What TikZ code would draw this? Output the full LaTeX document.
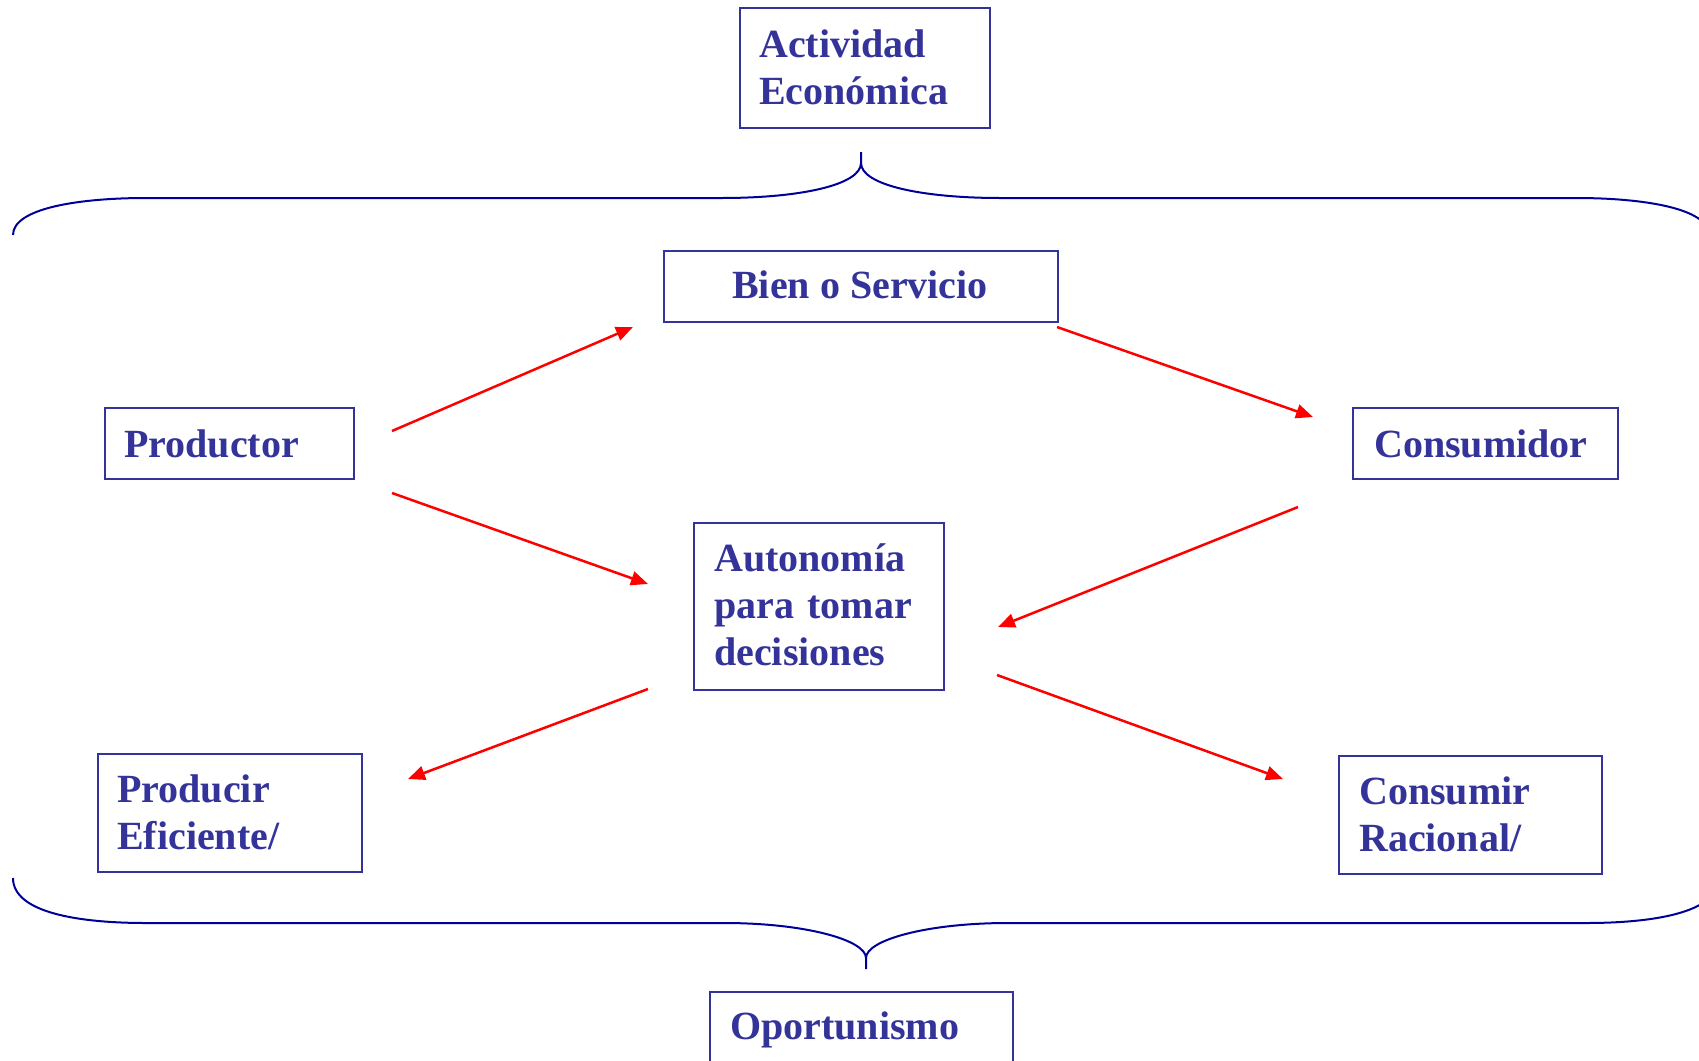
\documentclass[tikz,border=0pt]{standalone}
\usepackage{fontspec}
\setmainfont{Liberation Serif}
\usetikzlibrary{arrows.meta}
\definecolor{txtblue}{RGB}{51,51,153}
\definecolor{bracenavy}{RGB}{0,0,153}
\definecolor{arrred}{RGB}{255,0,0}
\begin{document}
\begin{tikzpicture}[x=1pt,y=-1pt,
  box/.style={draw=txtblue,line width=2pt,inner sep=0pt},
  lbl/.style={anchor=base west,inner sep=0pt,text=txtblue,font=\bfseries\fontsize{40}{47}\selectfont,align=left,text width=280pt},
  brace/.style={draw=bracenavy,line width=2pt},
  arr/.style={draw=arrred,line width=2.5pt,-{Triangle[length=17pt,width=14pt]}}]
\useasboundingbox (0,0) rectangle (1699,1060);

% boxes
\node[box,minimum width=250pt,minimum height=120pt,anchor=north west] (act) at (739,7) {};
\node[box,minimum width=394pt,minimum height=71pt,anchor=north west] (bien) at (663,250) {};
\node[box,minimum width=249pt,minimum height=71pt,anchor=north west] (prod) at (104,407) {};
\node[box,minimum width=265pt,minimum height=71pt,anchor=north west] (cons) at (1352,407) {};
\node[box,minimum width=250pt,minimum height=167pt,anchor=north west] (auto) at (693,522) {};
\node[box,minimum width=264pt,minimum height=118pt,anchor=north west] (pef) at (97,753) {};
\node[box,minimum width=263pt,minimum height=118pt,anchor=north west] (crac) at (1338,755) {};
\node[box,minimum width=303pt,minimum height=90pt,anchor=north west] (opo) at (709,991) {};

% texts
\node[lbl] (tact) at (759,57) {Actividad\\Económica};
\node[anchor=base,inner sep=0pt,text=txtblue,font=\bfseries\fontsize{40}{47}\selectfont] (tbien) at (860,298) {Bien o Servicio};
\node[lbl] (tprod) at (124,457) {Productor};
\node[lbl] (tcons) at (1374,457) {Consumidor};
\node[lbl] (tauto) at (714,571) {Autonomía\\para tomar\\decisiones};
\node[lbl] (tpef) at (117,802) {Producir\\Eficiente/};
\node[lbl] (tcrac) at (1359,804) {Consumir\\Racional/};
\node[lbl] (topo) at (730,1039) {Oportunismo};

% braces
\draw[brace] (13,235) .. controls (13,208) and (80,198) .. (146,198) -- (722,198)
  .. controls (800,198) and (861,185) .. (861,163) -- (861,152);
\draw[brace] (861,163) .. controls (861,185) and (922,198) .. (1000,198) -- (1576,198)
  .. controls (1642,198) and (1709,208) .. (1709,235);
\draw[brace] (13,878) .. controls (13,913) and (80,923) .. (146,923) -- (724,923)
  .. controls (805,923) and (866,940) .. (866,958) -- (866,969);
\draw[brace] (866,958) .. controls (866,940) and (927,923) .. (1008,923) -- (1586,923)
  .. controls (1652,923) and (1719,913) .. (1719,878);

% arrow end points
\coordinate (a1s) at (392,431); \coordinate (a1e) at (633,327);
\coordinate (a2s) at (392,493); \coordinate (a2e) at (648,584);
\coordinate (a3s) at (1057,327); \coordinate (a3e) at (1313,417);
\coordinate (a4s) at (1298,507); \coordinate (a4e) at (998,627);
\coordinate (a5s) at (648,689); \coordinate (a5e) at (408,779);
\coordinate (a6s) at (997,675); \coordinate (a6e) at (1283,779);

\draw[arr] (a1s) -- (a1e);
\draw[arr] (a2s) -- (a2e);
\draw[arr] (a3s) -- (a3e);
\draw[arr] (a4s) -- (a4e);
\draw[arr] (a5s) -- (a5e);
\draw[arr] (a6s) -- (a6e);
\end{tikzpicture}
\end{document}
